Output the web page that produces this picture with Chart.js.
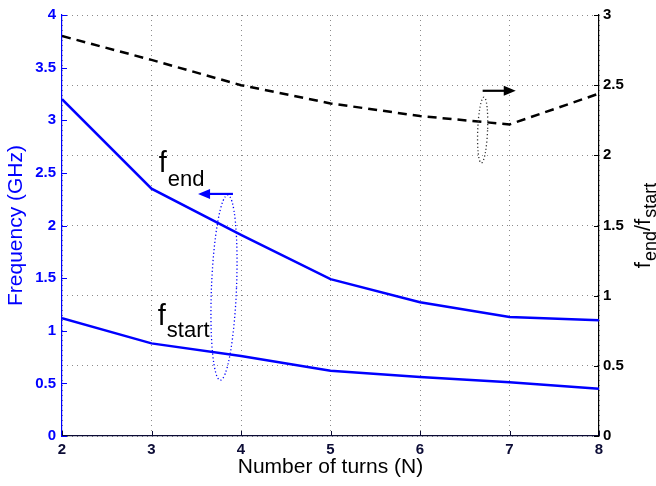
<!DOCTYPE html>
<html>
<head>
<meta charset="utf-8">
<script src="https://cdn.jsdelivr.net/npm/chart.js@4.4.1/dist/chart.umd.min.js"></script>
<style>
  html, body { margin: 0; padding: 0; background: #fff; }
  #wrap { width: 656px; height: 486px; }
</style>
</head>
<body>
<div id="wrap"><canvas id="chart" width="656" height="486"></canvas></div>
<script>
// ── data ──────────────────────────────────────────────────────────────────
const turns  = [2, 3, 4, 5, 6, 7, 8];
const fEnd   = [3.20, 2.35, 1.91, 1.49, 1.27, 1.13, 1.10];   // GHz (left axis)
const fStart = [1.12, 0.88, 0.76, 0.62, 0.56, 0.51, 0.45];   // GHz (left axis)
const ratio  = [2.85, 2.68, 2.50, 2.37, 2.28, 2.22, 2.44];   // f_end / f_start (right axis)

const xRange     = [2, 8];
const leftRange  = [0, 4];
const rightRange = [0, 3];
const tickStepY  = 0.5;

const FONT  = '"Liberation Sans", Arial, Helvetica, sans-serif';
const BLUE  = '#0000ff';
const NAVY  = '#0b0b35';
const GRID  = 'rgba(90,90,90,0.7)';

// annotation anchors, in data units (x, left-y or right-y)
const notes = {
    endLabel:   { x: 3.08, y: 2.51, sub: 'end',   dy: 14 },
    startLabel: { x: 3.07, y: 1.05, sub: 'start', dy: 12 },
    blueLoop:   { x: 3.81, y: 1.41, rx: 0.14, ry: 0.88 },
    blueArrow:  { x0: 3.91, x1: 3.52, y: 2.30 },
    blackLoop:  { x: 6.70, y: 2.18, rx: 0.055, ry: 0.235 },
    blackArrow: { x0: 6.70, x1: 7.07, y: 2.46 }
};

const pts = ys => turns.map((x, i) => ({ x: x, y: ys[i] }));

function arrow(ctx, x0, x1, y, color) {
    const dir = Math.sign(x1 - x0);
    ctx.save();
    ctx.strokeStyle = color; ctx.fillStyle = color; ctx.lineWidth = 2.2;
    ctx.beginPath(); ctx.moveTo(x0, y); ctx.lineTo(x1 - dir * 8, y); ctx.stroke();
    ctx.beginPath();
    ctx.moveTo(x1, y); ctx.lineTo(x1 - dir * 12, y - 5); ctx.lineTo(x1 - dir * 12, y + 5);
    ctx.closePath(); ctx.fill();
    ctx.restore();
}

function loop(ctx, cx, cy, rx, ry, color) {
    ctx.save();
    ctx.strokeStyle = color; ctx.lineWidth = 1.3;
    ctx.setLineDash([1.2, 2.4]);
    ctx.beginPath(); ctx.ellipse(cx, cy, rx, ry, 0.04, 0, Math.PI * 2); ctx.stroke();
    ctx.restore();
}

function subText(ctx, x, y, main, sub, mainSize, subSize, dy) {
    ctx.font = mainSize + 'px ' + FONT;
    ctx.fillText(main, x, y);
    const w = ctx.measureText(main).width;
    ctx.font = subSize + 'px ' + FONT;
    ctx.fillText(sub, x + w + 1, y + dy);
    return w + 1 + ctx.measureText(sub).width;
}

// inward tick marks, annotations and right-hand axis title
const decorations = {
    id: 'decorations',
    afterDatasetsDraw(chart) {
        const { ctx, scales: { x, y, y1 } } = chart;
        const n = notes;
        ctx.save();
        ctx.fillStyle = '#000';
        ctx.textBaseline = 'alphabetic';
        subText(ctx, x.getPixelForValue(n.endLabel.x), y.getPixelForValue(n.endLabel.y), 'f', n.endLabel.sub, 29, 22, n.endLabel.dy);
        subText(ctx, x.getPixelForValue(n.startLabel.x), y.getPixelForValue(n.startLabel.y), 'f', n.startLabel.sub, 29, 22, n.startLabel.dy);

        const bl = n.blueLoop;
        loop(ctx, x.getPixelForValue(bl.x), y.getPixelForValue(bl.y),
             x.getPixelForValue(bl.x + bl.rx) - x.getPixelForValue(bl.x),
             y.getPixelForValue(bl.y) - y.getPixelForValue(bl.y + bl.ry), BLUE);
        arrow(ctx, x.getPixelForValue(n.blueArrow.x0), x.getPixelForValue(n.blueArrow.x1), y.getPixelForValue(n.blueArrow.y), BLUE);

        const kl = n.blackLoop;
        loop(ctx, x.getPixelForValue(kl.x), y1.getPixelForValue(kl.y),
             x.getPixelForValue(kl.x + kl.rx) - x.getPixelForValue(kl.x),
             y1.getPixelForValue(kl.y) - y1.getPixelForValue(kl.y + kl.ry), '#333');
        arrow(ctx, x.getPixelForValue(n.blackArrow.x0), x.getPixelForValue(n.blackArrow.x1), y1.getPixelForValue(n.blackArrow.y), '#000');
        ctx.restore();
    },
    afterDraw(chart) {
        const { ctx, chartArea: a, scales: { x, y, y1 } } = chart;
        ctx.save();
        ctx.lineWidth = 1;
        // left ticks
        ctx.strokeStyle = BLUE;
        y.ticks.forEach(t => {
            const p = Math.round(y.getPixelForValue(t.value)) + 0.5;
            ctx.beginPath(); ctx.moveTo(a.left, p); ctx.lineTo(a.left + 5, p); ctx.stroke();
        });
        // right ticks
        ctx.strokeStyle = '#000';
        y1.ticks.forEach(t => {
            const p = Math.round(y1.getPixelForValue(t.value)) + 0.5;
            ctx.beginPath(); ctx.moveTo(a.right, p); ctx.lineTo(a.right - 5, p); ctx.stroke();
        });
        // bottom ticks
        ctx.strokeStyle = NAVY;
        x.ticks.forEach(t => {
            const p = Math.round(x.getPixelForValue(t.value)) + 0.5;
            ctx.beginPath(); ctx.moveTo(p, a.bottom); ctx.lineTo(p, a.bottom - 5); ctx.stroke();
        });

        // right axis title: f_end/f_start, rotated
        ctx.translate(650, (a.top + a.bottom) / 2);
        ctx.rotate(-Math.PI / 2);
        ctx.fillStyle = '#000';
        ctx.textBaseline = 'alphabetic';
        ctx.font = '22px ' + FONT;
        const fw = ctx.measureText('f').width, sw = ctx.measureText('/').width;
        ctx.font = '18px ' + FONT;
        const ew = ctx.measureText('end').width, tw = ctx.measureText('start').width;
        let cx = -(fw * 2 + sw + ew + tw + 2) / 2;
        ctx.font = '22px ' + FONT; ctx.fillText('f', cx, 0); cx += fw + 1;
        ctx.font = '18px ' + FONT; ctx.fillText('end', cx, 6); cx += ew;
        ctx.font = '22px ' + FONT; ctx.fillText('/f', cx, 0); cx += sw + fw + 1;
        ctx.font = '18px ' + FONT; ctx.fillText('start', cx, 6);
        ctx.restore();
    }
};

const tickFont = { family: FONT, size: 15, weight: 'bold' };

new Chart(document.getElementById('chart'), {
    type: 'line',
    data: {
        datasets: [
            { label: 'f_end',   data: pts(fEnd),   yAxisID: 'y',  borderColor: BLUE, borderWidth: 2.5, pointRadius: 0, tension: 0 },
            { label: 'f_start', data: pts(fStart), yAxisID: 'y',  borderColor: BLUE, borderWidth: 2.5, pointRadius: 0, tension: 0 },
            { label: 'ratio',   data: pts(ratio),  yAxisID: 'y1', borderColor: '#000', borderWidth: 2.5, borderDash: [9, 6], pointRadius: 0, tension: 0 }
        ]
    },
    options: {
        responsive: false,
        animation: false,
        devicePixelRatio: 1,
        layout: { padding: { top: 12, left: 0, right: 0, bottom: 0 } },
        plugins: { legend: { display: false }, tooltip: { enabled: false } },
        scales: {
            x: {
                type: 'linear', min: xRange[0], max: xRange[1],
                afterFit: s => { s.height = 50; },
                ticks: { stepSize: 1, autoSkip: false, color: NAVY, font: tickFont, padding: 5, maxRotation: 0 },
                grid: { color: GRID, drawTicks: false, lineWidth: 1 },
                border: { color: NAVY, width: 1.2, dash: [1, 4] },
                title: { display: true, text: 'Number of turns (N)', color: '#000', font: { family: FONT, size: 21 }, padding: { top: 0, bottom: 6 } }
            },
            y: {
                position: 'left', min: leftRange[0], max: leftRange[1],
                afterFit: s => { s.width = 62; },
                ticks: { stepSize: tickStepY, autoSkip: false, color: BLUE, font: tickFont, padding: 6, callback: v => String(v) },
                grid: { display: false, drawTicks: false },
                border: { color: BLUE, width: 1.2 },
                title: { display: true, text: 'Frequency (GHz)', color: BLUE, font: { family: FONT, size: 21 }, padding: { top: 4, bottom: 0 } }
            },
            y1: {
                position: 'right', min: rightRange[0], max: rightRange[1],
                afterFit: s => { s.width = 57; },
                ticks: { stepSize: tickStepY, autoSkip: false, color: '#000', font: tickFont, padding: 4, callback: v => String(v) },
                grid: { color: GRID, drawTicks: false, lineWidth: 1 },
                border: { color: '#000', width: 1.2, dash: [1, 4] }
            }
        }
    },
    plugins: [decorations]
});
</script>
</body>
</html>
